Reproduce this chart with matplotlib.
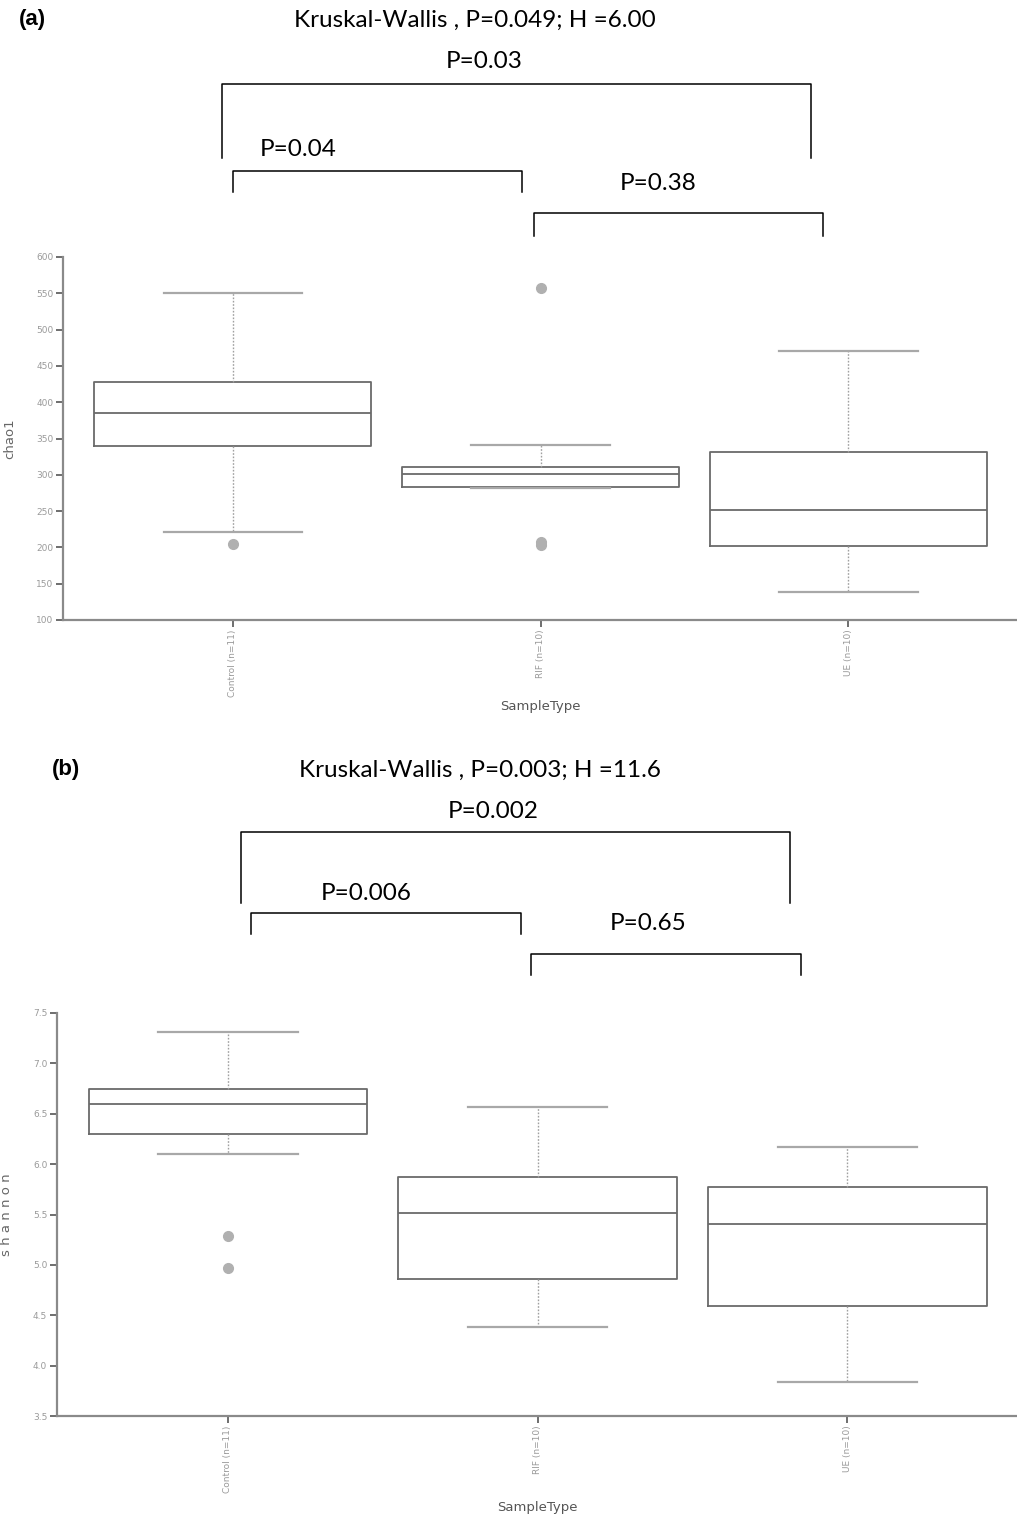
import matplotlib
matplotlib.use("Agg")
import matplotlib.pyplot as plt
from matplotlib.lines import Line2D

W, H = 1017, 1521

groups = ["Control (n=11)", "RIF (n=10)", "UE (n=10)"]

# panel (a) chao1
chao_whislo = [221, 282, 139]
chao_q1 = [340, 283, 202]
chao_med = [385, 301, 251]
chao_q3 = [428, 311, 331]
chao_whishi = [550, 341, 470]
chao_fliers = [[204], [557, 208, 203], []]

# panel (b) shannon
sh_whislo = [6.10, 4.38, 3.84]
sh_q1 = [6.30, 4.86, 4.59]
sh_med = [6.60, 5.51, 5.41]
sh_q3 = [6.75, 5.87, 5.77]
sh_whishi = [7.31, 6.57, 6.17]
sh_fliers = [[5.29, 4.97], [], []]

chao_ticks = [100, 150, 200, 250, 300, 350, 400, 450, 500, 550, 600]
sh_ticks = [3.5, 4.0, 4.5, 5.0, 5.5, 6.0, 6.5, 7.0, 7.5]

fig = plt.figure(figsize=(W / 100, H / 100), dpi=100)
fig.patch.set_facecolor("white")


def px_axes(left, top, right, bottom):
    return fig.add_axes([left / W, 1 - bottom / H, (right - left) / W, (bottom - top) / H])


def draw_box(ax, lo, q1, med, q3, hi, fl, ylim, ticks, ylabel, fmt, xlab_y):
    stats = []
    for i in range(len(groups)):
        stats.append(dict(whislo=lo[i], q1=q1[i], med=med[i], q3=q3[i],
                          whishi=hi[i], fliers=fl[i], label=groups[i]))
    ax.bxp(stats, positions=[1, 2, 3], widths=0.9, capwidths=0.45,
           boxprops=dict(color="#6a6a6a", linewidth=1.3),
           medianprops=dict(color="#6a6a6a", linewidth=1.3),
           whiskerprops=dict(color="#a0a0a0", linewidth=1.0, linestyle=(0, (1.2, 1.2))),
           capprops=dict(color="#a8a8a8", linewidth=1.6),
           flierprops=dict(marker="o", markerfacecolor="#b0b0b0",
                           markeredgecolor="#b0b0b0", markersize=7))
    ax.set_xlim(0.448, 3.548)
    ax.set_ylim(*ylim)
    ax.set_yticks(ticks)
    ax.set_yticklabels([fmt % t for t in ticks], fontsize=6.5, color="#9a9a9a")
    ax.set_xticks([1, 2, 3])
    ax.set_xticklabels(groups, rotation=90, fontsize=6.5, color="#9a9a9a", va="top")
    for s in ["top", "right"]:
        ax.spines[s].set_visible(False)
    for s in ["left", "bottom"]:
        ax.spines[s].set_color("#8a8a8a")
        ax.spines[s].set_linewidth(1.6)
    ax.tick_params(axis="both", direction="out", length=5, width=1.2, color="#555555", pad=2)
    ax.set_ylabel(ylabel, fontsize=9.5, color="#666666", labelpad=14)
    ax.set_xlabel("SampleType", fontsize=9.5, color="#555555")
    ax.xaxis.set_label_coords(0.5, xlab_y)


ax1 = px_axes(63, 257, 1017, 620)
draw_box(ax1, chao_whislo, chao_q1, chao_med, chao_q3, chao_whishi, chao_fliers,
         (100, 600), chao_ticks, "chao1", "%d", (620 - 700) / 363)
ax2 = px_axes(57, 1013, 1017, 1416)
draw_box(ax2, sh_whislo, sh_q1, sh_med, sh_q3, sh_whishi, sh_fliers,
         (3.5, 7.5), sh_ticks, "s h a n n o n", "%.1f", (1416 - 1501) / 403)


def ftext(x, y, s, **kw):
    fig.text(x / W, 1 - y / H, s, ha="center", va="center", **kw)


def bracket(x0, x1, y, y_end):
    xs = [x0 / W, x0 / W, x1 / W, x1 / W]
    ys = [1 - y_end / H, 1 - y / H, 1 - y / H, 1 - y_end / H]
    fig.add_artist(Line2D(xs, ys, color="black", linewidth=1.1))


afont = dict(fontsize=17.5, family="Lato", color="black")
lfont = dict(fontsize=16, fontweight="bold", family="Liberation Sans")

# panel (a) annotations
ftext(32, 20, "(a)", **lfont)
ftext(475, 20, "Kruskal-Wallis , P=0.049; H =6.00", **afont)
ftext(484, 61, "P=0.03", **afont)
bracket(222, 811, 84, 158)
ftext(298, 150, "P=0.04", **afont)
bracket(233, 522, 171, 192)
ftext(658, 183, "P=0.38", **afont)
bracket(534, 823, 213, 236)

# panel (b) annotations
ftext(66, 770, "(b)", **lfont)
ftext(480, 770, "Kruskal-Wallis , P=0.003; H =11.6", **afont)
ftext(493, 812, "P=0.002", **afont)
bracket(241, 790, 832, 903)
ftext(366, 893, "P=0.006", **afont)
bracket(251, 521, 913, 934)
ftext(648, 924, "P=0.65", **afont)
bracket(531, 801, 954, 975)

fig.savefig("out.png", dpi=100, facecolor="white")
